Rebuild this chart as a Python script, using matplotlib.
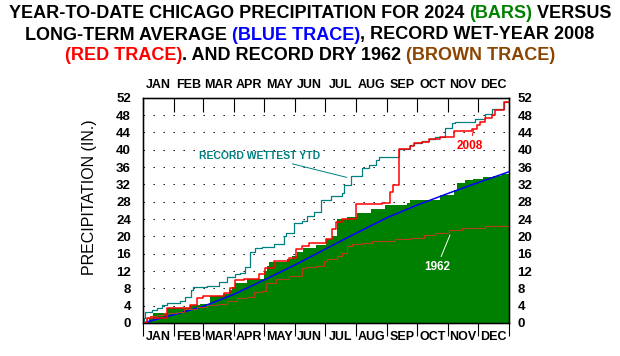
import numpy as np
import matplotlib
matplotlib.use("Agg")
import matplotlib.pyplot as plt

plt.rcParams["font.family"] = ["Liberation Sans", "DejaVu Sans"]
plt.rcParams["font.weight"] = "bold"

GREEN = "#008000"
BLUE = "#0000FF"
RED = "#FF0000"
TEAL = "#008080"
BROWN_LINE = "#B04020"
BROWN_TXT = "#8B4500"

# ── data (day of year, cumulative inches) ─────────────────────────────────────
months = ["JAN", "FEB", "MAR", "APR", "MAY", "JUN",
          "JUL", "AUG", "SEP", "OCT", "NOV", "DEC"]
month_edges = [0, 31, 60, 91, 121, 152, 182, 213, 244, 274, 305, 335, 366]

# 2024 year-to-date (bars)
ytd24_days = [0, 3, 6, 10, 24, 47, 57, 67, 80, 86, 89, 92, 104, 121, 124, 126,
              144, 149, 154, 160, 173, 183, 189, 194, 198, 204, 214, 228, 242,
              264, 267, 297, 311, 314, 322, 330, 340, 350, 358, 366]
ytd24_vals = [0, 0.5, 1.2, 2.2, 3.5, 4.2, 4.5, 6.2, 6.6, 7.7, 8.4, 9.2, 10.2,
              11.9, 13.2, 14.0, 14.7, 15.5, 16.5, 17.4, 18.0, 19.3, 20.1, 23.9,
              24.1, 24.4, 25.5, 26.2, 27.2, 27.8, 28.4, 29.5, 30.8, 32.4, 33.0,
              33.3, 33.6, 34.0, 34.5, 34.9]

# long-term average (blue)
norm_days = month_edges
norm_vals = [0, 1.9, 3.8, 6.6, 9.9, 13.4, 17.0, 20.7, 24.3, 27.2, 29.9, 32.4, 34.9]

# 2008 record wet year (red)
wet08_days = [0, 4, 24, 47, 54, 60, 81, 87, 92, 101, 116, 122, 131, 146, 153,
              159, 166, 183, 189, 193, 199, 213, 239, 247, 250, 256, 267, 271,
              279, 286, 297, 311, 329, 334, 337, 342, 349, 352, 361, 364, 366]
wet08_vals = [0, 1.2, 3.5, 4.2, 5.8, 6.3, 6.9, 8.1, 10.0, 10.2, 11.2, 12.8,
              14.3, 15.1, 17.0, 17.8, 18.4, 19.3, 21.6, 23.3, 24.1, 27.5, 27.8,
              30.3, 31.8, 40.2, 40.9, 41.5, 41.8, 42.4, 43.0, 44.2, 44.7, 45.7,
              46.5, 47.2, 48.0, 49.2, 50.9, 51.1, 51.1]

# record wettest year-to-date (teal)
rec_days = [0, 1, 2, 9, 14, 19, 24, 37, 42, 48, 50, 64, 76, 84, 92, 97, 102,
            107, 112, 119, 131, 141, 143, 151, 159, 164, 171, 178, 188, 199,
            201, 208, 219, 226, 233, 236, 256, 267, 271, 279, 286, 292, 302,
            309, 312, 332, 342, 349, 361, 364, 366]
rec_vals = [0, 1.1, 2.5, 3.0, 3.5, 4.2, 4.7, 5.1, 6.1, 7.6, 8.2, 8.6, 9.5,
            10.7, 11.2, 11.5, 13.0, 16.5, 17.2, 17.6, 18.2, 20.1, 20.8, 23.0,
            23.5, 24.7, 25.6, 28.5, 29.2, 29.9, 31.8, 34.0, 35.8, 36.5, 37.6,
            38.3, 40.2, 41.1, 41.5, 42.0, 42.4, 43.0, 44.9, 46.1, 46.3, 47.1,
            48.2, 49.3, 50.9, 51.1, 51.1]

# 1962 record dry year (brown)
dry62_days = [0, 4, 7, 14, 21, 34, 41, 54, 64, 74, 84, 94, 104, 111, 119, 123,
              133, 146, 159, 163, 173, 181, 184, 194, 199, 204, 209, 219, 229,
              252, 267, 281, 292, 306, 319, 342, 366]
dry62_vals = [0, 1.1, 1.5, 1.8, 2.2, 2.6, 3.2, 3.8, 4.2, 4.5, 5.1, 5.7, 6.1,
              7.1, 7.4, 9.3, 10.1, 10.8, 12.8, 13.0, 13.2, 14.3, 14.7, 15.5,
              16.1, 17.8, 18.2, 18.5, 18.9, 19.3, 19.7, 20.2, 20.8, 21.4, 22.0,
              22.4, 22.4]

yticks = list(range(0, 53, 4))

# ── figure ────────────────────────────────────────────────────────────────────
fig = plt.figure(figsize=(6.2, 3.56), dpi=100)
ax = fig.add_axes([0.2302, 0.0927, 0.5908, 0.6329])

ax.fill_between(ytd24_days, ytd24_vals, 0, step="post", color=GREEN,
                linewidth=0, zorder=2)
ax.plot(norm_days, norm_vals, color=BLUE, linewidth=1.1, zorder=4)
ax.step(dry62_days, dry62_vals, where="post", color=BROWN_LINE, linewidth=0.8, zorder=4)
ax.step(rec_days, rec_vals, where="post", color=TEAL, linewidth=0.9, zorder=4)
ax.step(wet08_days, wet08_vals, where="post", color=RED, linewidth=1.1, zorder=5)

ax.set_xlim(0, 366)
ax.set_ylim(0, 52)
ax.set_axisbelow(True)
ax.grid(axis="y", color="black", linestyle=(0, (1.3, 8.3)), linewidth=0.75)

for sp in ax.spines.values():
    sp.set_linewidth(1.0)

TICK_SIZE = 9.5

# bottom month axis
mids = [(a + b) / 2 for a, b in zip(month_edges[:-1], month_edges[1:])]
ax.set_xticks(month_edges)
ax.set_xticklabels([])
ax.set_xticks(mids, minor=True)
ax.set_xticklabels(months, minor=True)
ax.tick_params(axis="x", which="major", direction="out", length=9.5, width=0.8)
ax.tick_params(axis="x", which="minor", length=0, pad=6, labelsize=9)

# left values
ax.set_yticks(yticks)
ax.set_yticklabels([str(v) for v in yticks])
ax.tick_params(axis="y", length=0, pad=8.5, labelsize=TICK_SIZE)
ax.set_ylabel("PRECIPITATION (IN.)", fontsize=11.5, fontweight="normal")
ax.yaxis.set_label_coords(-0.125, 0.557)

# top month axis
axt = ax.twiny()
axt.set_xlim(0, 366)
axt.set_xticks(month_edges)
axt.set_xticklabels([])
axt.set_xticks(mids, minor=True)
axt.set_xticklabels(months, minor=True)
axt.tick_params(axis="x", which="major", direction="in", length=10, width=0.8)
axt.tick_params(axis="x", which="minor", length=0, pad=5, labelsize=9)

# right values
axr = ax.twinx()
axr.set_ylim(0, 52)
axr.set_yticks(yticks)
axr.set_yticklabels([str(v) for v in yticks])
axr.tick_params(axis="y", length=0, pad=6, labelsize=TICK_SIZE)

# ── annotations ───────────────────────────────────────────────────────────────
ax.annotate("RECORD WETTEST YTD", xy=(204, 33.6), xytext=(117, 38.6),
            ha="center", va="center", color=TEAL, fontsize=7.5, zorder=6,
            arrowprops=dict(arrowstyle="-", color=TEAL, lw=0.7, shrinkA=1, shrinkB=0))
ax.annotate("2008", xy=(330.6, 44.6), xytext=(327, 40.9),
            ha="center", va="center", color=RED, fontsize=8.5, zorder=6,
            arrowprops=dict(arrowstyle="-", color=RED, lw=0.7, shrinkA=1, shrinkB=0))
ax.annotate("1962", xy=(307, 20.3), xytext=(294, 13.0),
            ha="center", va="center", color="white", fontsize=8.5, zorder=6,
            arrowprops=dict(arrowstyle="-", color="white", lw=0.7, shrinkA=1, shrinkB=0))

# ── multi-colour title ────────────────────────────────────────────────────────
title_lines = [
    [("YEAR-TO-DATE CHICAGO PRECIPITATION FOR 2024 ", "black"),
     ("(BARS)", GREEN), (" VERSUS", "black")],
    [("LONG-TERM AVERAGE ", "black"), ("(BLUE TRACE)", BLUE),
     (", RECORD WET-YEAR 2008", "black")],
    [("(RED TRACE)", RED), (". AND RECORD DRY 1962 ", "black"),
     ("(BROWN TRACE)", BROWN_TXT)],
]
title_y = [14, 35, 56]   # pixel centres from top
TITLE_SIZE = 13

renderer = fig.canvas.get_renderer()
W, H = fig.bbox.width, fig.bbox.height


def text_width(s):
    t = fig.text(0, 0, s + "|", fontsize=TITLE_SIZE, fontweight="bold")
    bar = fig.text(0, 0, "|", fontsize=TITLE_SIZE, fontweight="bold")
    w = t.get_window_extent(renderer).width - bar.get_window_extent(renderer).width
    t.remove()
    bar.remove()
    return w


for parts, yp in zip(title_lines, title_y):
    full = "".join(p for p, _ in parts)
    total = text_width(full)
    x0 = (W - total) / 2
    prefix = ""
    for s, c in parts:
        off = text_width(prefix) if prefix else 0
        fig.text((x0 + off) / W, 1 - yp / H, s, fontsize=TITLE_SIZE,
                 fontweight="bold", color=c, ha="left", va="center")
        prefix += s

fig.savefig("out.png", dpi=100)
